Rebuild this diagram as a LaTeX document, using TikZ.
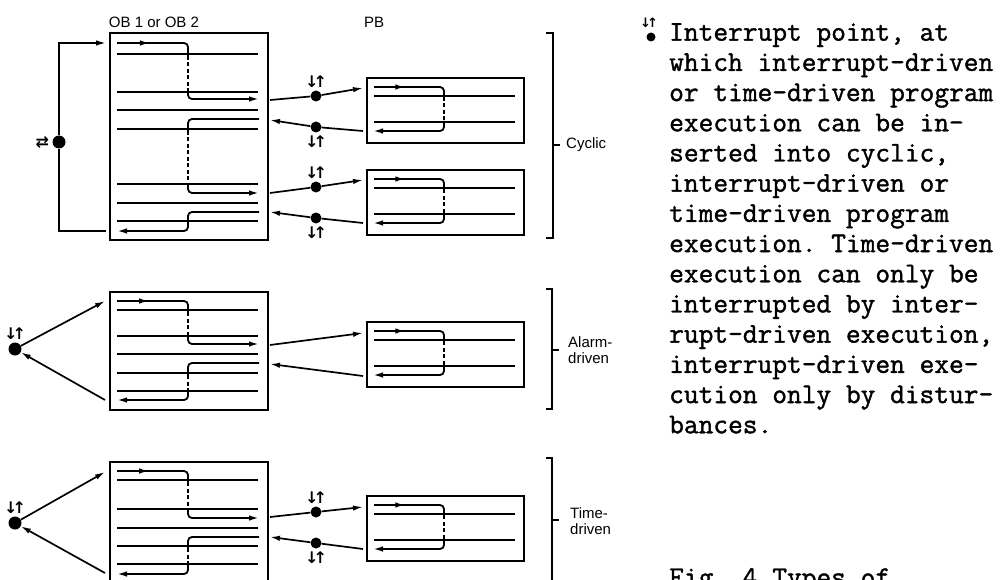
\documentclass[tikz,border=0pt]{standalone}
\usepackage{fontspec}
\newfontfamily\labelfont{Liberation Sans}
\newfontfamily\arrowfont{DejaVu Sans}
\newfontfamily\notefont[FakeBold=1.3]{Latin Modern Mono}
\usetikzlibrary{arrows.meta, decorations.markings, positioning}
\tikzset{
  obbox/.style   = {draw, line width=2pt, rectangle, inner sep=0pt, anchor=north west,
                    minimum width=158pt},
  pbbox/.style   = {draw, line width=2pt, rectangle, inner sep=0pt, anchor=north west,
                    minimum width=157pt, minimum height=65pt},
  stripe/.style  = {line width=1.4pt},
  flow/.style    = {line width=1.8pt, rounded corners=4pt},
  gap/.style     = {line width=1.6pt, dash pattern=on 4pt off 2.5pt},
  endtip/.style  = {-{Latex[length=10pt, width=5.5pt]}},
  midtip/.style  = {decoration={markings,
                     mark=at position #1 with {\arrow{Latex[length=10pt, width=5.5pt]}}},
                    postaction={decorate}},
  link/.style    = {line width=1.7pt},
  ipoint/.style  = {circle, fill=black, inner sep=0pt, minimum size=11pt},
  ilbl/.style    = {font=\arrowfont\bfseries\fontsize{16}{16}\selectfont, inner sep=0pt},
  lbl/.style     = {font=\labelfont\fontsize{15}{16}\selectfont, inner sep=0pt},
  brace/.style   = {line width=1.5pt},
  note/.style    = {font=\notefont\frenchspacing\fontsize{28.6}{30.2}\selectfont, inner sep=0pt},
}
% program block: two lines crossed by one dashed jump, then back
\newcommand{\pbflow}[1]{%
  \begin{scope}[shift={(0,#1)}]
    \foreach \yy in {19,45} \draw[stripe] (374,\yy) -- (515,\yy);
    \draw[flow, midtip=0.4] (374,10) -- (444,10) -- (444,20);
    \draw[gap] (444,20) -- (444,44);
    \draw[flow, endtip] (444,44) -- (444,54) -- (373,54);
  \end{scope}}

\begin{document}
\begin{tikzpicture}[x=1pt, y=-1pt]
  \useasboundingbox (0,0) rectangle (1008,580);
  \clip (0,0) rectangle (1008,580);
  \node[lbl] (obhead) at (154,22) {OB 1 or OB 2};
  \node[lbl] (pbhead) at (374,22) {PB};

  % cyclic: OB 1 / OB 2 runs round and round
  \node[obbox, minimum height=207pt] (ob1) at (109,32) {};
  \foreach \yy in {54,92,110,129,184,203,221} \draw[stripe] (117,\yy) -- (258,\yy);
  \draw[flow, midtip=0.4] (117,43) -- (188,43) -- (188,56);
  \draw[gap] (188,56) -- (188,91);
  \draw[flow, endtip] (188,91) -- (188,99) -- (259,99);
  \draw[flow] (259,119) -- (188,119) -- (188,131);
  \draw[gap] (188,131) -- (188,183);
  \draw[flow, endtip] (188,183) -- (188,193) -- (259,193);
  \draw[flow, endtip] (259,212) -- (188,212) -- (188,231) -- (117,231);
  \node[ipoint, minimum size=13pt] (cyc) at (59,142) {};
  \node[ilbl, left=3pt of cyc] (cyclbl) {⇄};
  \coordinate (ob1 in) at (106,43);
  \coordinate (ob1 out) at (106,231);
  \draw[link, endtip] (cyc) |- (ob1 in);
  \draw[link] (ob1 out) -| (cyc);

  \node[pbbox] (pb1) at (366,77) {};
  \pbflow{77}
  \node[pbbox] (pb2) at (366,169) {};
  \pbflow{169}
  \node[ipoint] (ip1) at (316,96) {};
  \node[ilbl, above=3pt of ip1] (ip1l) {↓\kern-5pt↑};
  \node[ipoint] (ip2) at (316,127) {};
  \node[ilbl, below=3pt of ip2] (ip2l) {↓\kern-5pt↑};
  \node[ipoint] (ip3) at (316,187) {};
  \node[ilbl, above=3pt of ip3] (ip3l) {↓\kern-5pt↑};
  \node[ipoint] (ip4) at (316,218) {};
  \node[ilbl, below=3pt of ip4] (ip4l) {↓\kern-5pt↑};
  \coordinate (ob1 r1) at (270,100);  \coordinate (pb1 l1) at (363,88);
  \coordinate (pb1 l2) at (363,131);  \coordinate (ob1 r2) at (270,120);
  \coordinate (ob1 r3) at (270,193);  \coordinate (pb2 l1) at (363,180);
  \coordinate (pb2 l2) at (363,223);  \coordinate (ob1 r4) at (270,212);
  \draw[link] (ob1 r1) -- (ip1);
  \draw[link, endtip] (ip1) -- (pb1 l1);
  \draw[link] (pb1 l2) -- (ip2);
  \draw[link, endtip] (ip2) -- (ob1 r2);
  \draw[link] (ob1 r3) -- (ip3);
  \draw[link, endtip] (ip3) -- (pb2 l1);
  \draw[link] (pb2 l2) -- (ip4);
  \draw[link, endtip] (ip4) -- (ob1 r4);
  \draw[brace] (546,33) -- (553,33) -- (553,238) -- (546,238);
  \draw[brace] (553,145) -- (560,145);
  \node[lbl, anchor=west] (cyclic) at (566,145) {Cyclic};

  % alarm-driven
  \node[obbox, minimum height=118pt] (ob2) at (109,291) {};
  \foreach \yy in {310,336,354,373,391} \draw[stripe] (117,\yy) -- (258,\yy);
  \draw[flow, midtip=0.4] (117,301) -- (188,301) -- (188,312);
  \draw[gap] (188,312) -- (188,335);
  \draw[flow, endtip] (188,335) -- (188,344) -- (259,344);
  \draw[flow] (259,363) -- (188,363) -- (188,375);
  \draw[gap] (188,375) -- (188,390);
  \draw[flow, endtip] (188,390) -- (188,400) -- (117,400);
  \node[ipoint, minimum size=13pt] (ipa) at (15,349) {};
  \node[ilbl, above=3pt of ipa] (ipal) {↓\kern-5pt↑};
  \coordinate (ob2 in) at (105,301);
  \coordinate (ob2 out) at (105,400);
  \draw[link, endtip] (ipa) -- (ob2 in);
  \draw[link, endtip] (ob2 out) -- (ipa);
  \node[pbbox] (pb3) at (366,321) {};
  \pbflow{321}
  \coordinate (ob2 r1) at (270,345);  \coordinate (pb3 l1) at (363,333);
  \coordinate (pb3 l2) at (363,376);  \coordinate (ob2 r2) at (270,364);
  \draw[link, endtip] (ob2 r1) -- (pb3 l1);
  \draw[link, endtip] (pb3 l2) -- (ob2 r2);
  \draw[brace] (546,289) -- (552,289) -- (552,409) -- (546,409);
  \draw[brace] (552,350) -- (559,350);
  \node[lbl, anchor=west, align=left] (alarm) at (568,350) {Alarm-\\driven};

  % time-driven
  \node[obbox, minimum height=122pt] (ob3) at (109,461) {};
  \foreach \yy in {480,509,528,546,564} \draw[stripe] (117,\yy) -- (258,\yy);
  \draw[flow, midtip=0.4] (117,471) -- (188,471) -- (188,482);
  \draw[gap] (188,482) -- (188,508);
  \draw[flow, endtip] (188,508) -- (188,518) -- (259,518);
  \draw[flow] (259,537) -- (188,537) -- (188,548);
  \draw[gap] (188,548) -- (188,563);
  \draw[flow, endtip] (188,563) -- (188,574) -- (117,574);
  \node[ipoint, minimum size=13pt] (ipt) at (15,523) {};
  \node[ilbl, above=3pt of ipt] (iptl) {↓\kern-5pt↑};
  \coordinate (ob3 in) at (105,472);
  \coordinate (ob3 out) at (105,573);
  \draw[link, endtip] (ipt) -- (ob3 in);
  \draw[link, endtip] (ob3 out) -- (ipt);
  \node[pbbox] (pb4) at (366,495) {};
  \pbflow{495}
  \node[ipoint] (ip5) at (316,512) {};
  \node[ilbl, above=3pt of ip5] (ip5l) {↓\kern-5pt↑};
  \node[ipoint] (ip6) at (316,543) {};
  \node[ilbl, below=3pt of ip6] (ip6l) {↓\kern-5pt↑};
  \coordinate (ob3 r1) at (270,517);  \coordinate (pb4 l1) at (363,507);
  \coordinate (pb4 l2) at (363,549);  \coordinate (ob3 r2) at (270,537);
  \draw[link] (ob3 r1) -- (ip5);
  \draw[link, endtip] (ip5) -- (pb4 l1);
  \draw[link] (pb4 l2) -- (ip6);
  \draw[link, endtip] (ip6) -- (ob3 r2);
  \draw[brace] (546,458) -- (552,458) -- (552,600);
  \draw[brace] (552,520) -- (559,520);
  \node[lbl, anchor=west, align=left] (timed) at (570,521) {Time-\\driven};

  % key and caption
  \node[ilbl, font=\arrowfont\bfseries\fontsize{13}{13}\selectfont] (keyarrows) at (649,23) {↓\kern-4pt↑};
  \node[ipoint, minimum size=9pt] (keydot) at (651,37) {};
  \node[note, anchor=north west, align=left] (notetext) at (669,23)
    {Interrupt point, at\\ which interrupt-driven\\ or time-driven program\\
     execution can be in-\\ serted into cyclic,\\ interrupt-driven or\\
     time-driven program\\ execution. Time-driven\\ execution can only be\\
     interrupted by inter-\\ rupt-driven execution,\\ interrupt-driven exe-\\
     cution only by distur-\\ bances.};
  \node[note, anchor=base west] (caption) at (669,586) {Fig. 4 Types of};
\end{tikzpicture}
\end{document}
